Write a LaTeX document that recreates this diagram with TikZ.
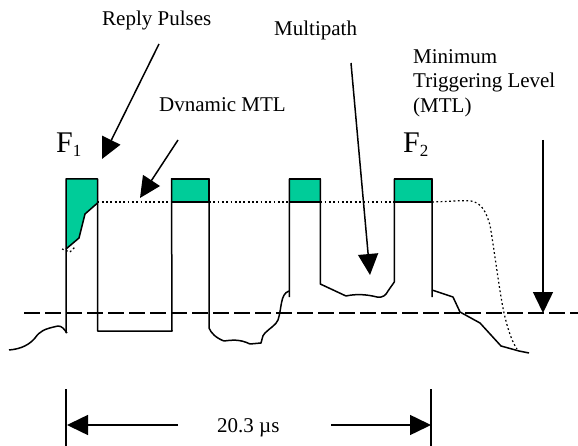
\documentclass[tikz,border=0pt]{standalone}
\usepackage{fontspec}
\setmainfont{Liberation Serif}
\usetikzlibrary{arrows.meta}
\tikzset{
  wire/.style={line width=1.5pt,line join=round},
  lvl/.style={line width=1.2pt,dash pattern=on 1.8pt off 2.5pt},
  ptr/.style={line width=1.5pt,-{Triangle[length=21pt,width=20pt]}},
  lab/.style={font=\fontsize{21}{23}\selectfont,inner sep=0pt,anchor=base west},
  flab/.style={font=\fontsize{30}{32}\selectfont,inner sep=0pt,anchor=base west},
  pulsefill/.style={fill=pgreen,draw=black,line width=1.5pt,line join=round}
}
\definecolor{pgreen}{HTML}{00CC99}
\newcommand{\fsub}[1]{F\raisebox{-4pt}{\fontsize{17}{17}\selectfont #1}}
\begin{document}
\begin{tikzpicture}[x=1pt,y=-1pt]
\useasboundingbox (0,0) rectangle (578,446);
% labels
\node[lab] (reply) at (102,26) {Reply Pulses};
\node[lab] (multi) at (274,36) {Multipath};
\node[lab] (dyn) at (159,112) {Dvnamic MTL};
\node[lab] (min1) at (413,64) {Minimum};
\node[lab] (min2) at (413,88) {Triggering Level};
\node[lab] (min3) at (413,113) {(MTL)};
\node[flab] (f1) at (56,153) {\fsub{1}};
\node[flab] (f2) at (403,153) {\fsub{2}};
\node[lab] (span) at (217,432) {20.3 µs};
% green
\path[fill=pgreen] (66,179) -- (97.5,179) -- (97.5,203) -- (85,214) -- (79,238) -- (66,249) -- cycle;
\draw[wire] (66,249) -- (79,238) -- (85,214) -- (97.5,203);
\draw[pulsefill] (171.5,179) rectangle (209,202);
\draw[pulsefill] (289.3,179) rectangle (320.3,202);
\draw[pulsefill] (394.3,179) rectangle (432,202);
% dynamic level
\draw[lvl] (97.5,202) -- (171.5,202);
\draw[lvl] (209,202) -- (289.3,202);
\draw[lvl] (320.3,202) -- (394.3,202);
\draw[lvl] (432,202) .. controls (450,201.5) and (462,200) .. (471,201) .. controls (482,203) and (486,212) .. (490,225) .. controls (495,255) and (500,295) .. (504,313) .. controls (508,330) and (512,342) .. (517,349);
\draw[lvl] (62,249) -- (70,252) -- (76,246);
% pulses
\draw[wire] (66,333) -- (66,179) -- (97.5,179) -- (97.5,331) -- (172,331) -- (171.5,179) -- (209,179) -- (209,328)
  .. controls (211,333) and (216,338) .. (224,341)
  .. controls (232,340) and (240,339) .. (250,344)
  -- (261,343) .. controls (263,340) and (261,337) .. (265,333)
  .. controls (270,328) and (276,325) .. (278,320)
  .. controls (282,308) and (280,294) .. (289,291);
\draw[wire] (289.3,297) -- (289.3,179) -- (320.3,179) -- (320.3,284)
  -- (346,296) .. controls (355,294) and (365,294) .. (377,297)
  .. controls (383,298) and (386,295) .. (388,291) -- (394.3,282) -- (394.3,179) -- (432,179) -- (432,297);
\draw[wire] (432,290) -- (453,297) -- (460,312) -- (480,323) -- (501,346) -- (519,351) -- (529,353);
\draw[wire] (9,350) .. controls (22,349) and (30,344) .. (35,338) .. controls (40,331) and (44,329) .. (58,326) .. controls (62,326) and (64,329) .. (67,333);
% threshold
\coordinate (ths) at (24,313);
\coordinate (the) at (578,313);
\draw[line width=1.5pt,dash pattern=on 16pt off 5pt] (ths) -- (the);
% pointers
\coordinate (a1) at (159,44); \coordinate (a1t) at (102,159);
\coordinate (a2) at (178,140); \coordinate (a2t) at (140,198);
\coordinate (a3) at (351,63); \coordinate (a3t) at (370,275);
\coordinate (a4) at (543,140); \coordinate (a4t) at (543,313);
\draw[ptr] (a1) -- (a1t);
\draw[ptr] (a2) -- (a2t);
\draw[ptr] (a3) -- (a3t);
\draw[ptr] (a4) -- (a4t);
% dimension
\coordinate (d1t) at (66,389); \coordinate (d1b) at (66,446);
\coordinate (d2t) at (431,389); \coordinate (d2b) at (431,446);
\coordinate (l1) at (178,425); \coordinate (l1t) at (67,425);
\coordinate (r1) at (331,425); \coordinate (r1t) at (431,425);
\draw[wire] (d1t) -- (d1b);
\draw[wire] (d2t) -- (d2b);
\draw[ptr] (l1) -- (l1t);
\draw[ptr] (r1) -- (r1t);
\end{tikzpicture}
\end{document}
